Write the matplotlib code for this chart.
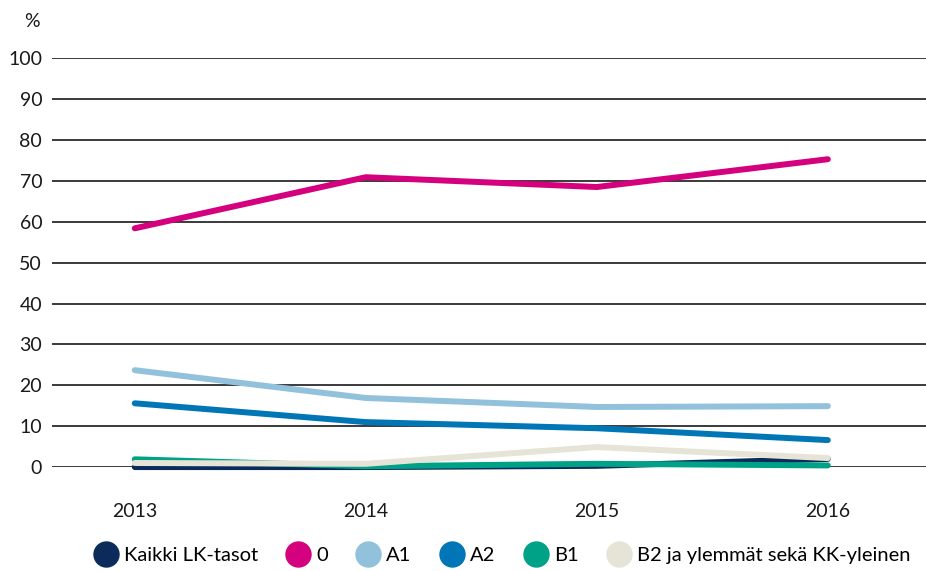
import matplotlib.pyplot as plt
from matplotlib.lines import Line2D

years = ["2013", "2014", "2015", "2016"]
kaikki = [0.0, 0.0, 0.3, 2.0]
taso_0 = [58.4, 70.9, 68.5, 75.3]
a1 = [23.7, 16.9, 14.7, 14.9]
a2 = [15.6, 11.0, 9.5, 6.6]
b1 = [1.9, 0.2, 0.8, 0.4]
b2 = [1.0, 0.8, 4.9, 2.2]

names = ["Kaikki LK-tasot", "0", "A1", "A2", "B1", "B2 ja ylemmät sekä KK-yleinen"]
series = [kaikki, taso_0, a1, a2, b1, b2]
colors = ["#0b2b5a", "#d4007d", "#92c1dc", "#0076b6", "#00a287", "#e6e3d7"]

plt.rcParams['font.family'] = ['Lato', 'DejaVu Sans']

fig = plt.figure(figsize=(9.26, 5.71), dpi=100)
ax = fig.add_axes([0.056, 0.182, 0.944, 0.716])

x = list(range(len(years)))
for vals, c in zip(series, colors):
    ax.plot(x, vals, color=c, lw=4.3, solid_capstyle='round', solid_joinstyle='round',
            clip_on=False, zorder=3)

ax.set_ylim(0, 100)
ax.set_xlim(-0.359, 3.425)
ax.set_yticks(range(0, 101, 10))
ax.yaxis.grid(True, color='#3a3a3a', lw=1.4)
ax.set_axisbelow(True)
ax.set_xticks(x)
ax.set_xticklabels(years)
ax.tick_params(axis='both', length=0, labelsize=14, colors='#1a1a1a')
ax.tick_params(axis='x', pad=26)
ax.tick_params(axis='y', pad=7)
for s in ax.spines.values():
    s.set_visible(False)

ax.text(-0.0135, 1.09, "%", transform=ax.transAxes, ha='right', va='center', fontsize=14,
        color='#1a1a1a')

handles = [Line2D([], [], marker='o', ls='none', markersize=18, color=c) for c in colors]
fig.legend(handles, names, loc='center', bbox_to_anchor=(0.542, 0.028), ncol=6, frameon=False,
           fontsize=14.5, handletextpad=0.3, columnspacing=1.4, handlelength=1.2)

fig.savefig("out.png", dpi=100)
